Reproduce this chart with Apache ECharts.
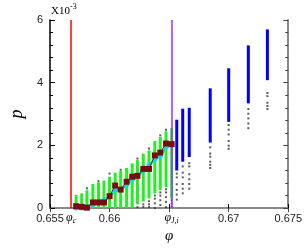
<!DOCTYPE html>
<html><head><meta charset="utf-8">
<script src="https://cdn.jsdelivr.net/npm/echarts@6/dist/echarts.min.js"></script>
<style>html,body{margin:0;padding:0;background:#fff}#c{width:305px;height:249px}</style>
</head><body><div id="c"></div>
<script>
// ---- data (p in units of 1e-3) ----
var phiC = 0.65678;
var phiJi = 0.66521;
var phi = [0.65719,0.65766,0.65810,0.65860,0.65907,0.65953,0.66000,0.66047,0.66093,0.66143,0.66190,0.66234,0.66283,0.66331,0.66380,0.66426,0.66474,0.66521];
var pMean = [0.06,0.04,0.015,0.18,0.18,0.18,0.38,0.72,0.59,0.84,1.0,1.03,1.25,1.25,1.68,1.77,2.06,2.04];
var pCyan = [0.0,0.0,0.04,0.12,0.2,0.26,0.36,0.58,0.58,0.74,0.92,1.0,1.2,1.36,1.55,1.66,1.94,2.02];
var greenLo = [0,0,0,0,0,0,0,0,0,0,0,0.12,0.21,0.31,0.47,0.58,0.67,0.31];
var greenHi = [0.42,0.47,0.57,0.77,0.82,0.88,1.0,1.13,1.18,1.28,1.43,1.53,1.74,1.84,2.14,2.27,2.45,2.55];
var greenDots = [[],[],[0.63],[],[0.86],[],[1.1],[],[1.22],[],[],[1.58,0.03],[0.04,0.12],[1.9,0.03,0.12,0.22],[0.0,0.15,0.3,0.4],[2.32,0.1,0.25,0.4,0.5],[2.5,0.03,0.2,0.35,0.5,0.6],[0.05,0.15,0.25]];
var phiB = [0.66564,0.66614,0.66669,0.66845,0.67000,0.67165,0.67325];
var blueLo = [1.2,1.48,1.63,2.09,2.75,3.34,4.08];
var blueHi = [2.82,3.17,3.20,3.82,4.46,5.19,5.70];
var blueDots = [[1.1,0.98,0.76,0.58,0.43,0.27],[1.33,1.13,0.98,0.77,0.62,0.47],[1.43,1.33,1.08,0.92,0.77,0.62],[1.94,1.74,1.64,1.48,1.38,1.28],[2.65,2.5,2.35,2.14,1.99,1.89],[3.16,3.01,2.86,2.7,2.55],[3.67,3.57,3.36,3.26,3.16]];
var xTicks = {"0.655":"0.655","0.66":"0.66","0.665":"","0.67":"0.67","0.675":"0.675"};

// ---- build ----
function rangeData(xs, lo, hi){ return xs.map(function(x,i){ return [x, lo[i], hi[i]]; }); }
function dotData(xs, lists){ var out=[]; xs.forEach(function(x,i){ lists[i].forEach(function(v){ out.push([x,v]); }); }); return out; }
function barItem(w, color){
  return function(params, api){
    var a = api.coord([api.value(0), api.value(1)]);
    var b = api.coord([api.value(0), api.value(2)]);
    return {type:'rect', shape:{x:a[0]-w/2, y:b[1], width:w, height:a[1]-b[1]}, style:{fill:color}};
  };
}
function zip(xs, ys){ return xs.map(function(x,i){ return [x, ys[i]]; }); }

var chart = echarts.init(document.getElementById('c'), null, {renderer:'canvas'});
var sans = 'Liberation Sans';
var serif = 'Liberation Serif';
var subRich = {a:{fontFamily:serif, fontStyle:'italic', fontSize:12, color:'#000'}, b:{fontFamily:serif, fontStyle:'italic', fontSize:8, color:'#000', verticalAlign:'bottom', padding:[6,0,0,0]}};
chart.setOption({
  animation:false,
  grid:{left:48, right:15, top:20, bottom:32},
  xAxis:[{
    type:'value', min:0.655, max:0.675, interval:0.005, position:'bottom',
    name:'φ', nameLocation:'middle', nameGap:17,
    nameTextStyle:{fontFamily:serif, fontStyle:'italic', fontSize:15, color:'#000'},
    axisLine:{lineStyle:{color:'#000', width:1.5}},
    axisTick:{inside:true, length:4, lineStyle:{color:'#000'}},
    axisLabel:{fontFamily:sans, fontSize:11, color:'#222', margin:5,
      formatter:function(v){ var k = String(+v.toFixed(3)); return xTicks[k] !== undefined ? xTicks[k] : ''; }},
    splitLine:{show:false}
  },{
    type:'value', min:0.655, max:0.675, interval:0.005, position:'top',
    axisLine:{lineStyle:{color:'#888', width:2}},
    axisTick:{inside:true, length:4, lineStyle:{color:'#444'}},
    axisLabel:{show:false}, splitLine:{show:false}
  }],
  yAxis:[{
    type:'value', min:0, max:6, interval:2, position:'left',
    name:'p', nameLocation:'middle', nameGap:24, nameRotate:90,
    nameTextStyle:{fontFamily:serif, fontStyle:'italic', fontSize:18, color:'#000'},
    axisLine:{lineStyle:{color:'#000', width:1.5}},
    axisTick:{inside:true, length:5, lineStyle:{color:'#000'}},
    minorTick:{show:true, splitNumber:5, length:3, lineStyle:{color:'#000'}},
    axisLabel:{fontFamily:sans, fontSize:11, color:'#222', margin:7},
    splitLine:{show:false}
  },{
    type:'value', min:0, max:6, interval:2, position:'right',
    axisLine:{lineStyle:{color:'#888', width:2}},
    axisTick:{inside:true, length:5, lineStyle:{color:'#444'}},
    minorTick:{show:true, splitNumber:5, length:3, lineStyle:{color:'#444'}},
    axisLabel:{show:false}, splitLine:{show:false}
  }],
  graphic:[
    {type:'text', left:51, top:6, style:{text:'X10', font:'11px "Liberation Serif"', fill:'#000'}},
    {type:'text', left:70, top:3, style:{text:'-3', font:'8px "Liberation Serif"', fill:'#000'}}
  ],
  series:[
    {type:'custom', renderItem:barItem(3,'#22f022'), data:rangeData(phi, greenLo, greenHi), encode:{x:0,y:[1,2]}, z:2},
    {type:'custom', renderItem:barItem(3,'#0000ff'), data:rangeData(phiB, blueLo, blueHi), encode:{x:0,y:[1,2]}, z:2},
    {type:'scatter', data:dotData(phi, greenDots), symbol:'rect', symbolSize:2, itemStyle:{color:'#333'}, z:3},
    {type:'scatter', data:dotData(phiB, blueDots), symbol:'rect', symbolSize:2, itemStyle:{color:'#333'}, z:3},
    {type:'line', data:zip(phi, pCyan), symbol:'circle', symbolSize:5, lineStyle:{color:'#00e0f0', width:2.5}, itemStyle:{color:'#00e0f0'}, z:4},
    {type:'line', data:zip(phi, pMean), symbol:'rect', symbolSize:6, lineStyle:{color:'#8b1010', width:1}, itemStyle:{color:'#7a0c0c'}, z:5,
      markLine:{symbol:'none', silent:true, animation:false, precision:6,
        data:[
          {xAxis:phiC, lineStyle:{color:'#ff0000', width:1.5, type:'solid'},
            label:{position:'start', distance:3, formatter:'{a|φ}{b|c}', rich:subRich}},
          {xAxis:phiJi, lineStyle:{color:'#9933ff', width:1.5, type:'solid'},
            label:{position:'start', distance:3, formatter:'{a|φ}{b|J,i}', rich:subRich}}
        ]}}
  ]
});
</script></body></html>
